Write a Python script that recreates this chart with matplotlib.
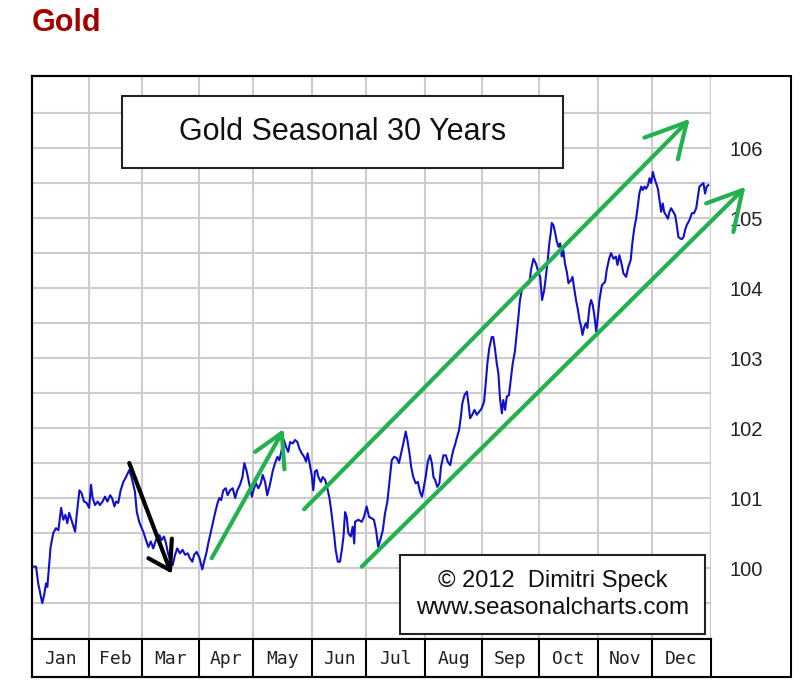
import numpy as np
import matplotlib
matplotlib.use("Agg")
import matplotlib.pyplot as plt
from matplotlib.patches import Rectangle

# seasonal pattern, x = trading day of year, y = index value
days = [0.5, 1.5, 2.3, 3.3, 3.8, 4.5, 5.2, 5.7, 6.3, 6.9, 7.9, 8.9, 9.8, 10.8, 11.6, 12.4, 13.1, 13.8,
        15.0, 16.0, 16.6, 17.6, 18.4, 19.3, 20.3, 21.2, 21.9, 22.5, 23.4, 24.4, 25.2, 26.2, 27.1, 28.0,
        29.0, 29.7, 30.6, 31.2, 32.0, 32.9, 33.9, 34.9, 36.1, 37.0, 38.2, 38.9, 39.8, 40.5, 41.3, 42.3,
        43.2, 44.1, 45.0, 46.0, 47.3, 48.1, 49.0, 49.7, 50.6, 52.2, 53.1, 53.9, 54.9, 55.9, 56.8, 57.8,
        58.6, 59.5, 60.2, 61.1, 62.0, 62.4, 63.2, 64.0, 64.8, 65.4, 66.3, 67.1, 67.9, 68.8, 69.5, 70.2,
        71.0, 71.9, 72.6, 73.5, 74.5, 75.4, 76.2, 77.2, 78.1, 78.8, 79.7, 80.7, 81.6, 82.4, 83.1, 84.0,
        84.9, 85.6, 86.5, 87.3, 88.3, 89.3, 90.2, 91.1, 91.8, 92.7, 93.5, 94.3, 95.1, 95.8, 96.8, 97.6,
        98.5, 99.2, 100.1, 101.0, 101.7, 102.3, 102.9, 103.8, 104.4, 105.0, 105.7, 106.3, 107.2, 107.9,
        108.8, 109.6, 110.4, 111.0, 111.6, 112.2, 112.7, 113.5, 114.3, 115.0, 115.6, 116.2, 116.8, 117.4,
        118.3, 119.0, 119.6, 119.9, 121.1, 122.4, 123.2, 124.2, 125.1, 126.1, 126.9, 127.7, 128.5, 129.4,
        130.2, 131.0, 131.9, 132.6, 133.5, 134.4, 135.4, 136.2, 137.0, 137.8, 138.7, 139.3, 140.1, 140.7,
        141.5, 142.4, 143.2, 144.0, 144.7, 145.2, 146.1, 146.9, 147.7, 148.4, 149.0, 149.6, 150.4, 151.2,
        151.8, 152.7, 153.6, 154.3, 155.2, 155.8, 156.4, 157.0, 157.6, 158.5, 159.1, 159.7, 160.5, 161.4,
        162.0, 162.6, 163.4, 164.2, 165.1, 165.9, 166.9, 167.8, 168.4, 169.0, 169.7, 170.6, 171.2, 171.9,
        172.5, 173.1, 173.7, 174.4, 174.9, 175.6, 176.2, 177.0, 177.7, 178.4, 179.2, 179.9, 180.5, 181.1,
        181.8, 182.6, 183.6, 184.6, 185.2, 186.1, 187.0, 187.7, 188.6, 189.3, 190.1, 190.7, 191.4, 192.0,
        192.5, 192.9, 193.5, 194.1, 194.8, 195.4, 196.0, 196.6, 197.2, 197.8, 198.5, 199.1, 200.0, 200.6,
        201.2, 201.9, 202.6, 203.2, 203.8, 204.3, 205.0, 205.6, 206.1, 206.9, 207.5, 208.1, 208.7, 209.4,
        210.0, 210.6, 211.5, 212.7, 213.3, 214.2, 214.9, 215.8, 216.7, 217.3, 218.0, 218.9, 219.5, 220.5,
        221.3, 222.2, 222.8, 223.5, 224.2, 224.8, 225.4, 226.1, 226.7, 227.3, 227.9, 228.6, 229.2, 229.8,
        230.4, 231.0, 231.6, 232.3, 232.9, 233.5, 234.1, 234.6, 235.3, 236.0, 236.6, 237.2, 238.0, 238.7,
        239.3, 239.9, 240.5, 241.2, 241.8, 242.4, 243.0, 244.0, 244.9, 245.7, 246.5, 247.1, 247.7, 248.3,
        249.2, 249.8, 250.4, 251.0]
values = [100.02, 100.02, 99.78, 99.59, 99.50, 99.61, 99.78, 99.73, 100.02, 100.30, 100.50, 100.57, 100.54,
          100.86, 100.69, 100.76, 100.64, 100.79, 100.64, 100.52, 100.76, 101.11, 101.07, 100.95, 100.93,
          100.86, 101.19, 101.00, 100.90, 100.95, 100.90, 100.95, 101.02, 100.95, 101.04, 101.00, 100.88,
          100.95, 100.93, 101.11, 101.23, 101.30, 101.40, 101.29, 101.09, 100.80, 100.66, 100.59, 100.52,
          100.40, 100.30, 100.38, 100.28, 100.40, 100.47, 100.40, 100.45, 100.36, 100.19, 100.04, 100.19,
          100.28, 100.21, 100.26, 100.19, 100.21, 100.14, 100.09, 100.19, 100.23, 100.16, 100.11, 99.98,
          100.11, 100.23, 100.35, 100.50, 100.64, 100.78, 100.92, 101.00, 100.97, 101.11, 101.14, 101.04,
          101.11, 101.14, 101.00, 101.11, 101.19, 101.30, 101.50, 101.38, 101.19, 101.02, 101.14, 101.21,
          101.14, 101.21, 101.33, 101.23, 101.04, 101.19, 101.38, 101.50, 101.59, 101.54, 101.69, 101.83,
          101.73, 101.66, 101.80, 101.78, 101.83, 101.80, 101.71, 101.64, 101.59, 101.52, 101.64, 101.52,
          101.33, 101.11, 101.38, 101.40, 101.30, 101.23, 101.30, 101.26, 101.14, 101.00, 100.83, 100.64,
          100.45, 100.26, 100.09, 100.09, 100.26, 100.45, 100.80, 100.73, 100.50, 100.45, 100.59, 100.35,
          100.66, 100.69, 100.66, 100.73, 100.88, 100.73, 100.71, 100.69, 100.54, 100.30, 100.42, 100.54,
          100.78, 100.95, 101.21, 101.54, 101.59, 101.57, 101.50, 101.64, 101.78, 101.95, 101.83, 101.64,
          101.45, 101.30, 101.21, 101.23, 101.09, 101.02, 101.11, 101.30, 101.52, 101.61, 101.50, 101.30,
          101.26, 101.16, 101.21, 101.45, 101.61, 101.61, 101.52, 101.47, 101.59, 101.69, 101.76, 101.85,
          101.97, 102.14, 102.35, 102.47, 102.52, 102.35, 102.14, 102.19, 102.26, 102.19, 102.23, 102.28,
          102.38, 102.64, 102.92, 103.14, 103.30, 103.30, 103.11, 102.92, 102.78, 102.42, 102.21, 102.40,
          102.26, 102.45, 102.47, 102.69, 102.92, 103.09, 103.35, 103.58, 103.83, 103.97, 104.02, 104.04,
          104.07, 104.26, 104.42, 104.35, 104.26, 104.16, 103.83, 103.97, 104.16, 104.40, 104.64, 104.78,
          104.93, 104.90, 104.80, 104.66, 104.59, 104.64, 104.45, 104.54, 104.35, 104.23, 104.07, 104.11,
          104.16, 104.00, 103.83, 103.69, 103.54, 103.45, 103.33, 103.45, 103.50, 103.43, 103.73, 103.83,
          103.76, 103.61, 103.38, 103.59, 103.83, 104.04, 104.09, 104.26, 104.42, 104.50, 104.42, 104.45,
          104.33, 104.47, 104.33, 104.21, 104.16, 104.30, 104.40, 104.64, 104.85, 104.99, 105.16, 105.35,
          105.45, 105.40, 105.45, 105.42, 105.47, 105.57, 105.50, 105.66, 105.57, 105.50, 105.42, 105.26,
          105.09, 105.21, 105.09, 105.04, 104.99, 105.09, 105.14, 105.09, 105.04, 104.90, 104.73, 104.71,
          104.70, 104.73, 104.83, 104.90, 104.97, 105.07, 105.07, 105.14, 105.30, 105.45, 105.47, 105.50,
          105.35, 105.45, 105.47]

months = ["Jan", "Feb", "Mar", "Apr", "May", "Jun", "Jul", "Aug", "Sep", "Oct", "Nov", "Dec"]
days_in_month = [21, 20, 21, 20, 22, 20, 22, 21, 21, 22, 20, 22]
y_ticks = [100, 101, 102, 103, 104, 105, 106]

# hand drawn arrows (day, value): shaft start, tip, two head ends
arrows = [
    ("black",   (36.1, 101.50), (51.2, 99.97), (43.2, 100.14), (51.9, 100.42)),
    ("#22b14c", (66.7, 100.14), (92.7, 101.93), (82.8, 101.66), (93.7, 101.41)),
    ("#22b14c", (101.0, 100.84), (243.0, 106.37), (227.3, 106.15), (239.7, 105.84)),
    ("#22b14c", (122.4, 100.02), (263.7, 105.40), (250.2, 105.21), (260.3, 104.80)),
]

bounds = np.concatenate([[0], np.cumsum(days_in_month)])
W, H = 800, 693

fig = plt.figure(figsize=(8, 6.93), dpi=100)
fig.patch.set_facecolor("white")

def fx(px):
    return px / W

def fy(py):
    return 1 - py / H

ax = fig.add_axes([fx(32), fy(639), fx(711) - fx(32), fy(76) - fy(639)])
ax.set_xlim(0, bounds[-1])
ax.set_ylim(98.986, 107.03)

ax.set_xticks(bounds)
ax.set_yticks(y_ticks)
ax.set_yticks(np.arange(99.5, 107, 0.5), minor=True)
ax.yaxis.tick_right()
ax.set_yticklabels([str(t) for t in y_ticks], fontsize=14.5, family="Liberation Sans", color="#222222")
ax.tick_params(axis="both", which="both", length=0)
ax.tick_params(axis="y", pad=13)
ax.tick_params(axis="x", labelbottom=False)
ax.grid(True, which="both", color="#cccccc", lw=1.5)
ax.set_axisbelow(True)
ax.spines["right"].set_visible(False)
for s in ["left", "top", "bottom"]:
    ax.spines[s].set_linewidth(1.5)
ax.axvline(bounds[-1], color="#cccccc", lw=1.5, zorder=0.5)

ax.plot(days, values, color="#1010cc", lw=1.5, zorder=3)

# title box
ax.add_patch(Rectangle((0.1325, 0.8366), 0.6495, 0.1279, transform=ax.transAxes,
                       facecolor="white", edgecolor="#222222", lw=1.5, zorder=4))
ax.text(0.4573, 0.9005, "Gold Seasonal 30 Years", transform=ax.transAxes, ha="center", va="center",
        fontsize=22, family="Liberation Sans", color="#111111", zorder=5)

# copyright box
ax.add_patch(Rectangle((0.542, 0.0089), 0.4492, 0.1403, transform=ax.transAxes,
                       facecolor="white", edgecolor="#222222", lw=1.5, zorder=4))
ax.text(0.7666, 0.103, "\u00a9 2012  Dimitri Speck", transform=ax.transAxes, ha="center", va="center",
        fontsize=17, family="Liberation Sans", color="#111111", zorder=5)
ax.text(0.7666, 0.0551, "www.seasonalcharts.com", transform=ax.transAxes, ha="center", va="center",
        fontsize=17.5, family="Liberation Sans", color="#111111", zorder=5)

for color, start, tip, h1, h2 in arrows:
    for p in (start, h1, h2):
        ax.plot([p[0], tip[0]], [p[1], tip[1]], color=color, lw=3, solid_capstyle="round",
                clip_on=False, zorder=6)

# month row
axm = fig.add_axes([fx(32), fy(677), fx(711) - fx(32), fy(639) - fy(677)])
axm.set_xlim(0, bounds[-1])
axm.set_ylim(0, 1)
axm.set_xticks([])
axm.set_yticks([])
for s in axm.spines.values():
    s.set_linewidth(1.5)
for b in bounds[1:-1]:
    axm.axvline(b, color="black", lw=1.5)
for i, m in enumerate(months):
    axm.text((bounds[i] + bounds[i + 1]) / 2, 0.47, m, ha="center", va="center",
             fontsize=13, family="DejaVu Sans Mono", color="#222222")

# outer frame
fig.patches.append(Rectangle((fx(32), fy(677)), fx(791) - fx(32), fy(76) - fy(677),
                             transform=fig.transFigure, fill=False, edgecolor="black", lw=1.5))

fig.text(fx(32), fy(23), "Gold", ha="left", va="center", fontsize=22, fontweight="bold",
         family="Liberation Sans", color="#a50000")

fig.savefig("out.png", dpi=100)
